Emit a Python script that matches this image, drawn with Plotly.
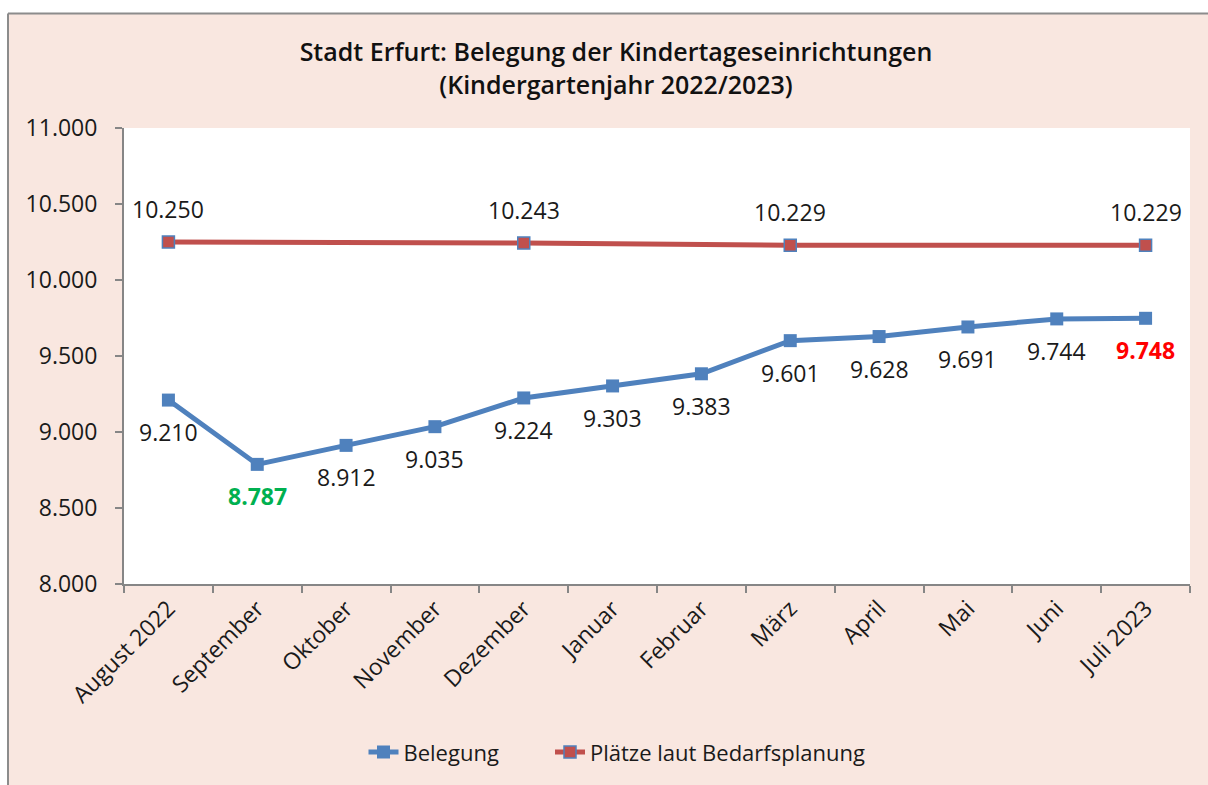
import plotly.graph_objects as go

months = ["August 2022", "September", "Oktober", "November", "Dezember", "Januar",
          "Februar", "März", "April", "Mai", "Juni", "Juli 2023"]
belegung = [9210, 8787, 8912, 9035, 9224, 9303, 9383, 9601, 9628, 9691, 9744, 9748]
plaetze = [10250, None, None, None, 10243, None, None, 10229, None, None, None, 10229]

BLUE = "#4f81bd"
RED = "#c0504d"
PINK = "#f9e7e0"
GRAY = "#868686"
FONT = "Open Sans"


def de(v):
    return f"{v:,}".replace(",", ".")


fig = go.Figure()
fig.add_trace(go.Scatter(
    x=months, y=belegung, name="Belegung", mode="lines+markers",
    line=dict(color=BLUE, width=5),
    marker=dict(symbol="square", size=13, color=BLUE),
    legend="legend",
))
fig.add_trace(go.Scatter(
    x=months, y=plaetze, name="Plätze laut Bedarfsplanung", mode="lines+markers",
    connectgaps=True,
    line=dict(color=RED, width=5),
    marker=dict(symbol="square", size=12, color=RED, line=dict(color=BLUE, width=1.5)),
    legend="legend2",
))

min_i = belegung.index(min(belegung))
last_i = len(belegung) - 1
for i, (m, v) in enumerate(zip(months, belegung)):
    color, bold = "#1a1a1a", False
    if i == min_i:
        color, bold = "#00b050", True
    elif i == last_i:
        color, bold = "#ff0000", True
    fig.add_annotation(x=m, y=v, text=f"<b>{de(v)}</b>" if bold else de(v),
                       showarrow=False, yshift=-32,
                       font=dict(family=FONT, size=23, color=color))
for m, v in zip(months, plaetze):
    if v is None:
        continue
    fig.add_annotation(x=m, y=v, text=de(v), showarrow=False, yshift=33,
                       font=dict(family=FONT, size=23, color="#1a1a1a"))

# white outer strip and gray border of the chart box
W, H = 1208, 785
L, R, T, B = 124, 18, 128, 199
pw, ph = W - L - R, H - T - B


def px_x(p):
    return (p - L) / pw


def px_y(p):
    return (H - B - p) / ph


fig.add_shape(type="rect", xref="paper", yref="paper", layer="below",
              x0=px_x(-5), x1=px_x(W + 5), y0=px_y(13), y1=px_y(-5),
              fillcolor="white", line=dict(width=0))
fig.add_shape(type="rect", xref="paper", yref="paper", layer="below",
              x0=px_x(-5), x1=px_x(8), y0=px_y(H + 5), y1=px_y(-5),
              fillcolor="white", line=dict(width=0))
fig.add_shape(type="line", xref="paper", yref="paper", layer="below",
              x0=px_x(8), x1=px_x(W + 5), y0=px_y(13), y1=px_y(13),
              line=dict(color="#8c8c8c", width=2))
fig.add_shape(type="line", xref="paper", yref="paper", layer="below",
              x0=px_x(8), x1=px_x(8), y0=px_y(13), y1=px_y(H + 5),
              line=dict(color="#8c8c8c", width=2))

legend_style = dict(orientation="h", xanchor="left", y=px_y(755), yanchor="middle",
                    font=dict(family=FONT, size=22, color="#1a1a1a"),
                    bgcolor="rgba(0,0,0,0)")

fig.update_layout(
    width=W, height=H,
    margin=dict(l=L, r=R, t=T, b=B),
    paper_bgcolor=PINK, plot_bgcolor="white",
    separators=",.",
    title=dict(text="Stadt Erfurt: Belegung der Kindertageseinrichtungen<br>(Kindergartenjahr 2022/2023)",
               x=px_x(616), xref="paper", xanchor="center",
               y=1 - 61 / H, yanchor="middle", yref="container",
               font=dict(family=FONT, size=25, color="#111111", weight=600)),
    font=dict(family=FONT, size=22, color="#1a1a1a"),
    showlegend=True,
    legend=dict(x=px_x(363.5), **legend_style),
    legend2=dict(x=px_x(550), **legend_style),
    xaxis=dict(type="category", range=[-0.5, 11.5], tickangle=-45,
               showline=True, linecolor=GRAY, linewidth=2,
               ticks="outside", tickson="boundaries", ticklen=7, tickcolor=GRAY, tickwidth=2,
               showgrid=False, tickfont=dict(family=FONT, size=23, color="#1a1a1a")),
    yaxis=dict(range=[8000, 11000], dtick=500, tickformat=",",
               showline=True, linecolor=GRAY, linewidth=2,
               ticks="outside", ticklen=7, tickcolor=GRAY, tickwidth=2,
               ticklabelstandoff=13,
               showgrid=False, zeroline=False,
               tickfont=dict(family=FONT, size=23, color="#1a1a1a")),
)

fig.write_html("out.html")
